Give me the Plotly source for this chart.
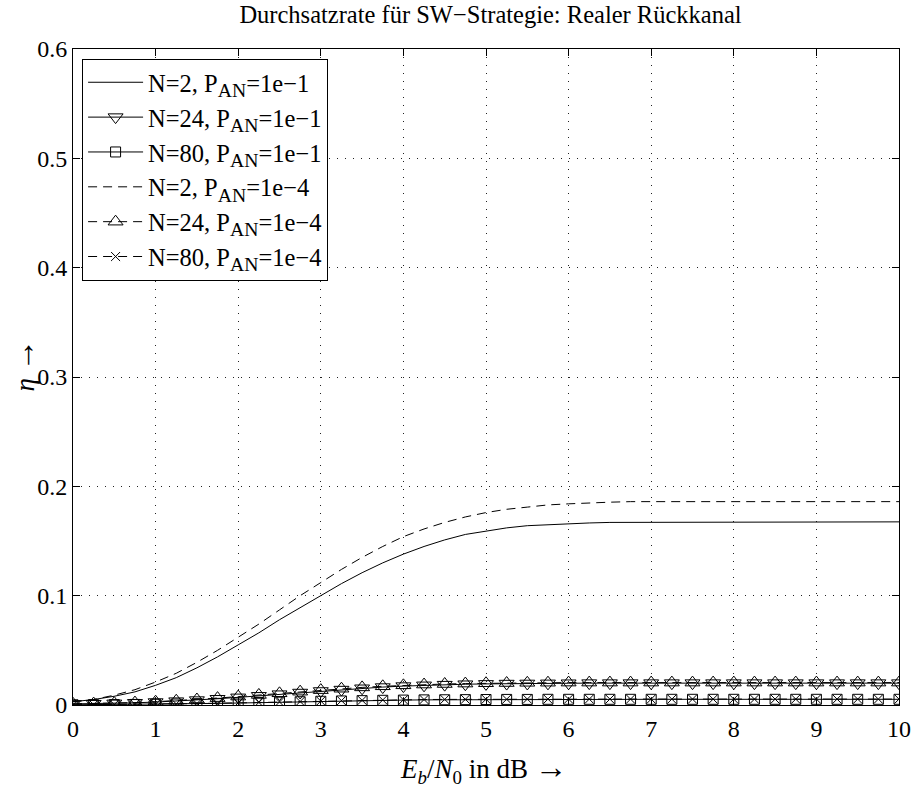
import plotly.graph_objects as go

x_db = [0, 0.25, 0.5, 0.75, 1, 1.25, 1.5, 1.75, 2, 2.25, 2.5, 2.75, 3, 3.25, 3.5, 3.75,
        4, 4.25, 4.5, 4.75, 5, 5.25, 5.5, 5.75, 6, 6.25, 6.5, 6.75, 7, 7.25, 7.5, 7.75,
        8, 8.25, 8.5, 8.75, 9, 9.25, 9.5, 9.75, 10]

eta_n2_p1 = [0.003, 0.005, 0.008, 0.012, 0.018, 0.025, 0.034, 0.044, 0.055, 0.066, 0.078, 0.089,
             0.100, 0.111, 0.121, 0.130, 0.138, 0.145, 0.151, 0.156, 0.159, 0.162, 0.164, 0.165,
             0.166, 0.1665, 0.167, 0.167, 0.1672, 0.1674, 0.1675, 0.1675, 0.1675, 0.1675, 0.1675,
             0.1675, 0.1675, 0.1675, 0.1675, 0.1675, 0.1675]
eta_n24_p1 = [0.0010, 0.0012, 0.0015, 0.0020, 0.0027, 0.0035, 0.0045, 0.0057, 0.0070, 0.0084,
              0.0099, 0.0114, 0.0128, 0.0141, 0.0153, 0.0164, 0.0173, 0.0180, 0.0186, 0.0190,
              0.0193, 0.0196, 0.0197, 0.0198, 0.0199, 0.0200, 0.0200, 0.0200, 0.0200, 0.0200,
              0.0200, 0.0200, 0.0200, 0.0200, 0.0200, 0.0200, 0.0200, 0.0200, 0.0200, 0.0200, 0.0200]
eta_n80_p1 = [0.0002, 0.0003, 0.0004, 0.0005, 0.0007, 0.0009, 0.0012, 0.0015, 0.0018, 0.0022,
              0.0026, 0.0030, 0.0034, 0.0037, 0.0040, 0.0043, 0.0045, 0.0047, 0.0048, 0.0049,
              0.0050, 0.0051, 0.0051, 0.0052, 0.0052, 0.0052, 0.0052, 0.0052, 0.0052, 0.0052,
              0.0052, 0.0052, 0.0052, 0.0052, 0.0052, 0.0052, 0.0052, 0.0052, 0.0052, 0.0052, 0.0052]
eta_n2_p4 = [0.003, 0.005, 0.009, 0.014, 0.021, 0.029, 0.039, 0.050, 0.062, 0.074, 0.087, 0.100,
             0.112, 0.124, 0.135, 0.145, 0.154, 0.161, 0.167, 0.172, 0.176, 0.179, 0.181, 0.183,
             0.184, 0.185, 0.1855, 0.186, 0.186, 0.186, 0.186, 0.186, 0.186, 0.186, 0.186,
             0.186, 0.186, 0.186, 0.186, 0.186, 0.186]
eta_n24_p4 = [0.0011, 0.0013, 0.0017, 0.0022, 0.0030, 0.0039, 0.0050, 0.0063, 0.0077, 0.0092,
              0.0107, 0.0122, 0.0136, 0.0149, 0.0161, 0.0171, 0.0180, 0.0187, 0.0192, 0.0196,
              0.0199, 0.0201, 0.0203, 0.0204, 0.0205, 0.0205, 0.0205, 0.0205, 0.0205, 0.0205,
              0.0205, 0.0205, 0.0205, 0.0205, 0.0205, 0.0205, 0.0205, 0.0205, 0.0205, 0.0205, 0.0205]
eta_n80_p4 = [0.0002, 0.0003, 0.0004, 0.0006, 0.0008, 0.0010, 0.0013, 0.0016, 0.0020, 0.0024,
              0.0028, 0.0032, 0.0036, 0.0040, 0.0043, 0.0046, 0.0048, 0.0050, 0.0051, 0.0052,
              0.0053, 0.0053, 0.0054, 0.0054, 0.0054, 0.0054, 0.0054, 0.0054, 0.0054, 0.0054,
              0.0054, 0.0054, 0.0054, 0.0054, 0.0054, 0.0054, 0.0054, 0.0054, 0.0054, 0.0054, 0.0054]

SUB = "<sub><span style='font-size:1.15em'>AN</span></sub>"
names = ["N=2, P" + SUB + "=1e\u22121", "N=24, P" + SUB + "=1e\u22121", "N=80, P" + SUB + "=1e\u22121",
         "N=2, P" + SUB + "=1e\u22124", "N=24, P" + SUB + "=1e\u22124", "N=80, P" + SUB + "=1e\u22124"]

x_ticks = [0, 1, 2, 3, 4, 5, 6, 7, 8, 9, 10]
y_ticks = [0, 0.1, 0.2, 0.3, 0.4, 0.5, 0.6]
y_ticktext = ["0", "0.1", "0.2", "0.3", "0.4", "0.5", "0.6"]

title_text = "Durchsatzrate für SW\u2212Strategie: Realer Rückkanal"
xlabel_text = "<i>E</i><sub><i>b</i></sub>/<i>N</i><sub>0</sub> in dB <span style='font-size:1.2em'>\u2192</span>"
ylabel_text = "<i>\u03b7</i> <span style='font-size:1.2em'>\u2192</span>"

DASH = "9px,6px"
series = [
    (eta_n2_p1, "solid", None),
    (eta_n24_p1, "solid", "triangle-down-open"),
    (eta_n80_p1, "solid", "square-open"),
    (eta_n2_p4, DASH, None),
    (eta_n24_p4, DASH, "triangle-up-open"),
    (eta_n80_p4, DASH, "x-thin-open"),
]

fig = go.Figure()
for (ys, dash, sym), nm in zip(series, names):
    if sym is None:
        fig.add_trace(go.Scatter(x=x_db, y=ys, name=nm, mode="lines",
                                 line=dict(color="black", width=1, dash=dash)))
    else:
        size = 13 if "triangle" in sym else (10 if "square" in sym else 9)
        fig.add_trace(go.Scatter(x=x_db, y=ys, name=nm, mode="lines+markers",
                                 line=dict(color="black", width=1, dash=dash),
                                 marker=dict(symbol=sym, size=size, color="black",
                                             line=dict(color="black", width=1))))

font = "Liberation Serif, Times New Roman, serif"
axis_common = dict(showline=True, linecolor="black", linewidth=1, mirror="allticks",
                   ticks="inside", ticklen=7, tickcolor="black",
                   showgrid=True, gridcolor="#222222", griddash="1px,7px", gridwidth=1,
                   zeroline=False, tickfont=dict(family=font, size=24, color="black"))

fig.update_layout(
    width=923, height=787,
    paper_bgcolor="white", plot_bgcolor="white",
    margin=dict(l=73, r=15, t=49, b=82),
    font=dict(family=font, color="black"),
    title=dict(text=title_text,
               x=(73 + 908) / 2 / 923, xanchor="center",
               yref="container", y=1 - 14 / 787, yanchor="middle",
               font=dict(family=font, size=24.5, color="black")),
    xaxis=dict(range=[0, 10], tickvals=x_ticks, ticklabelstandoff=2, **axis_common),
    yaxis=dict(range=[0, 0.6], tickvals=y_ticks, ticktext=y_ticktext, **axis_common),
    legend=dict(x=0.011, y=0.985, xanchor="left", yanchor="top",
                bgcolor="white", bordercolor="black", borderwidth=1,
                font=dict(family=font, size=24.5, color="black"),
                tracegroupgap=0, itemwidth=55),
    showlegend=True,
    annotations=[
        dict(text=xlabel_text, xref="paper", yref="paper",
             x=(488 - 73) / 835, y=(705 - 768) / 656, xanchor="center", yanchor="middle",
             showarrow=False, font=dict(family=font, size=27, color="black")),
        dict(text=ylabel_text, xref="paper", yref="paper", textangle=-90,
             x=(22 - 73) / 835, y=(705 - 365) / 656, xanchor="center", yanchor="middle",
             showarrow=False, font=dict(family=font, size=27, color="black")),
    ],
)

fig.write_html("out.html", config={"displayModeBar": False},
               post_script="document.body.style.margin='0px';document.body.style.overflow='hidden';")
